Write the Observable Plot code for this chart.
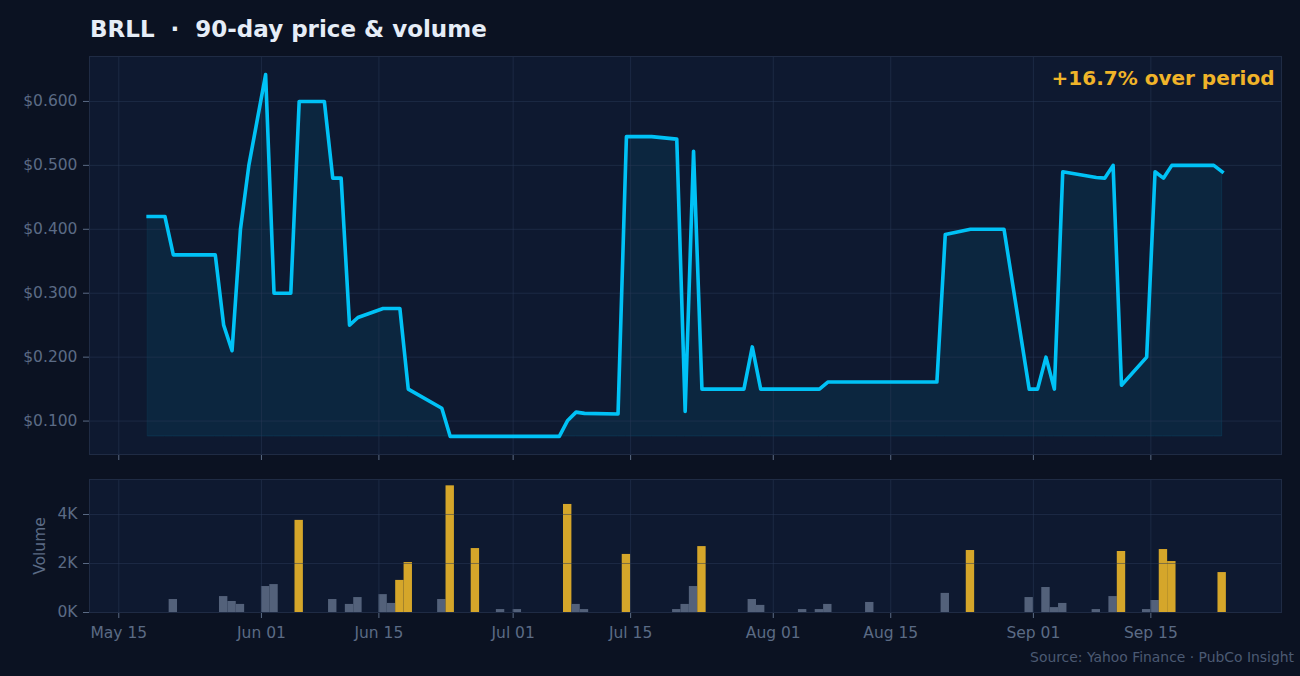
<!DOCTYPE html>
<html>
<head>
<meta charset="utf-8">
<script src="https://cdn.jsdelivr.net/npm/d3@7"></script>
<script src="https://cdn.jsdelivr.net/npm/@observablehq/plot@0.6"></script>
<style>
  html, body { margin: 0; padding: 0; background: #0b1222; }
  #wrap { position: relative; width: 1300px; height: 676px; background: #0b1222; overflow: hidden; font-family: "DejaVu Sans", sans-serif; }
  #title { position: absolute; left: 90px; top: 18px; font-size: 23px; line-height: 23px; font-weight: bold; color: #e6edf7; white-space: pre; }
  #caption { position: absolute; right: 6px; top: 651px; font-size: 13.9px; line-height: 13.9px; color: #4b5a73; white-space: pre; }
  .panel { position: absolute; left: 0; }
</style>
</head>
<body>
<div id="wrap">
  <div id="title">BRLL  ·  90-day price &amp; volume</div>
  <div id="price" class="panel" style="top:0px"></div>
  <div id="volume" class="panel" style="top:470px"></div>
  <div id="caption">Source: Yahoo Finance · PubCo Insight</div>
</div>
<script>
// ---- data ----
const priceDates = [
  "2025-05-18","2025-05-20","2025-05-21","2025-05-26","2025-05-27","2025-05-28","2025-05-29","2025-05-30",
  "2025-06-01","2025-06-02","2025-06-04","2025-06-05","2025-06-08","2025-06-09","2025-06-10","2025-06-11",
  "2025-06-12","2025-06-15","2025-06-17","2025-06-18","2025-06-22","2025-06-23","2025-07-06","2025-07-07",
  "2025-07-08","2025-07-09","2025-07-13","2025-07-14","2025-07-17","2025-07-20","2025-07-21","2025-07-22",
  "2025-07-23","2025-07-28","2025-07-29","2025-07-30","2025-08-06","2025-08-07","2025-08-20","2025-08-21",
  "2025-08-24","2025-08-28","2025-08-31","2025-09-01","2025-09-02","2025-09-03","2025-09-04","2025-09-08",
  "2025-09-09","2025-09-10","2025-09-11","2025-09-14","2025-09-15","2025-09-16","2025-09-17","2025-09-22",
  "2025-09-23"
];
const priceValues = [
  0.42, 0.42, 0.36, 0.36, 0.25, 0.21, 0.40, 0.50,
  0.642, 0.30, 0.30, 0.60, 0.60, 0.48, 0.48, 0.25,
  0.262, 0.276, 0.276, 0.15, 0.12, 0.076, 0.076, 0.101,
  0.114, 0.112, 0.111, 0.545, 0.545, 0.541, 0.115, 0.522,
  0.15, 0.15, 0.216, 0.15, 0.15, 0.161, 0.161, 0.392,
  0.40, 0.40, 0.15, 0.15, 0.20, 0.15, 0.49, 0.481,
  0.48, 0.50, 0.156, 0.20, 0.49, 0.48, 0.50, 0.50,
  0.49
];
const volumeDates = [
  "2025-05-21","2025-05-27","2025-05-28","2025-05-29","2025-06-01","2025-06-02","2025-06-05","2025-06-09",
  "2025-06-11","2025-06-12","2025-06-15","2025-06-16","2025-06-17","2025-06-18","2025-06-22","2025-06-23",
  "2025-06-26","2025-06-29","2025-07-01","2025-07-07","2025-07-08","2025-07-09","2025-07-14","2025-07-20",
  "2025-07-21","2025-07-22","2025-07-23","2025-07-29","2025-07-30","2025-08-04","2025-08-06","2025-08-07",
  "2025-08-12","2025-08-21","2025-08-24","2025-08-31","2025-09-02","2025-09-03","2025-09-04","2025-09-08",
  "2025-09-10","2025-09-11","2025-09-14","2025-09-15","2025-09-16","2025-09-17","2025-09-23"
];
const volumeValues = [
  530, 650, 450, 330, 1060, 1140, 3760, 530,
  330, 610, 730, 370, 1310, 2040, 530, 5170,
  2610, 120, 120, 4410, 330, 120, 2370, 120,
  330, 1060, 2690, 530, 290, 120, 120, 330,
  410, 780, 2530, 610, 1020, 200, 370, 120,
  650, 2490, 120, 490, 2570, 2080, 1630
];
const xTickDates = ["2025-05-15","2025-06-01","2025-06-15","2025-07-01","2025-07-15","2025-08-01","2025-08-15","2025-09-01","2025-09-15"];
const priceTicks = [0.1, 0.2, 0.3, 0.4, 0.5, 0.6];
const volumeTicks = [0, 2000, 4000];
const spikeThreshold = 1250;

// ---- styling ----
const bg = "#0e1930", gridC = "#2a3a58", gridOp = 0.5, frameC = "#1f2b44", tickC = "#5b6b85";
const lineC = "#00c2f6", gold = "#d5a62a", gray = "#53617a", annC = "#f0b429";
const font = "DejaVu Sans";

const day = s => new Date(s + "T00:00:00Z");
const noon = s => new Date(s + "T12:00:00Z");
const price = priceDates.map((d, i) => ({date: noon(d), value: priceValues[i]}));
const volume = volumeDates.map((d, i) => ({x1: day(d), x2: d3.utcDay.offset(day(d), 1), value: volumeValues[i]}));
const xTicks = xTickDates.map(day);
const xDomain = [new Date("2025-05-11T12:14:00Z"), new Date("2025-09-30T13:41:00Z")];

const pMin = d3.min(priceValues), pMax = d3.max(priceValues), pPad = (pMax - pMin) * 0.05;
const vMax = d3.max(volumeValues);
const change = (priceValues[priceValues.length - 1] / priceValues[0] - 1) * 100;
const annText = (change >= 0 ? "+" : "") + change.toFixed(1) + "% over period";

const common = {
  width: 1300,
  marginLeft: 89, marginRight: 19,
  style: {background: "transparent", fontFamily: font, fontSize: "15.5px", color: tickC, overflow: "visible"},
  x: {type: "utc", domain: xDomain}
};

const pricePlot = Plot.plot({
  ...common,
  height: 470, marginTop: 56, marginBottom: 16,
  y: {domain: [pMin - pPad, pMax + pPad]},
  marks: [
    Plot.frame({fill: bg}),
    Plot.areaY(price, {x: "date", y1: pMin, y2: "value", fill: lineC, fillOpacity: 0.08, stroke: lineC, strokeOpacity: 0.1, strokeWidth: 1}),
    Plot.ruleY(priceTicks, {stroke: gridC, strokeOpacity: gridOp}),
    Plot.ruleX(xTicks, {stroke: gridC, strokeOpacity: gridOp}),
    Plot.lineY(price, {x: "date", y: "value", stroke: lineC, strokeWidth: 3.6, strokeLinejoin: "round", strokeLinecap: "square"}),
    Plot.axisY({ticks: priceTicks, tickFormat: d => "$" + d.toFixed(3), tickSize: 6, tickPadding: 6, label: null, fontSize: 15.5}),
    Plot.axisX({ticks: xTicks, tickFormat: () => "", tickSize: 6, label: null}),
    Plot.frame({stroke: frameC}),
    Plot.text([annText], {frameAnchor: "top-right", textAnchor: "end", lineAnchor: "bottom", dx: -7, dy: 28, fill: annC, fontSize: 20, fontWeight: "bold"})
  ]
});

const volumePlot = Plot.plot({
  ...common,
  height: 206, marginTop: 9, marginBottom: 64,
  y: {domain: [0, vMax * 1.05]},
  marks: [
    Plot.frame({fill: bg}),
    Plot.rectY(volume, {x1: "x1", x2: "x2", y: "value", fill: d => d.value > spikeThreshold ? gold : gray}),
    Plot.ruleY(volumeTicks, {stroke: gridC, strokeOpacity: gridOp}),
    Plot.ruleX(xTicks, {stroke: gridC, strokeOpacity: gridOp}),
    Plot.axisY({ticks: volumeTicks, tickFormat: d => (d / 1000) + "K", tickSize: 6, tickPadding: 6, label: null, fontSize: 15.5}),
    Plot.axisX({ticks: xTicks, tickFormat: d3.utcFormat("%b %d"), tickSize: 6, tickPadding: 8, label: null, fontSize: 15.5}),
    Plot.frame({stroke: frameC}),
    Plot.text(["Volume"], {frameAnchor: "left", rotate: -90, dx: -49, fill: tickC, fontSize: 15.5, textAnchor: "middle", lineAnchor: "middle"})
  ]
});

document.getElementById("price").appendChild(pricePlot);
document.getElementById("volume").appendChild(volumePlot);
</script>
</body>
</html>
